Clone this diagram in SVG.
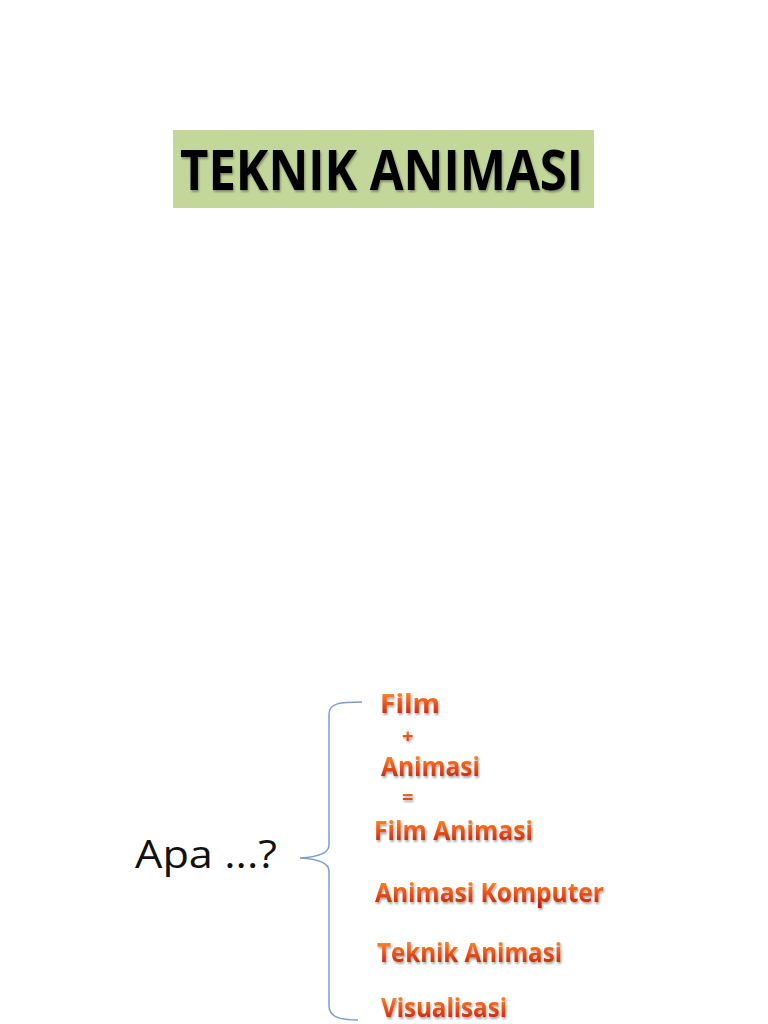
<svg xmlns="http://www.w3.org/2000/svg" width="768" height="1024" viewBox="0 0 768 1024">
<defs>
<linearGradient id="og" x1="0" y1="0" x2="0" y2="1">
<stop offset="0" stop-color="#ffb040"/>
<stop offset="0.5" stop-color="#ee5a18"/>
<stop offset="1" stop-color="#b80c06"/>
</linearGradient>
<filter id="sh" x="-5%" y="-20%" width="110%" height="140%">
<feGaussianBlur in="SourceAlpha" stdDeviation="0.8"/>
<feOffset dx="1" dy="1.5" result="b"/>
<feComponentTransfer><feFuncA type="linear" slope="0.35"/></feComponentTransfer>
<feMerge><feMergeNode/><feMergeNode in="SourceGraphic"/></feMerge>
</filter>
<style>
.o{font-family:"Open Sans","Liberation Sans",sans-serif;font-weight:bold;fill:url(#og);filter:url(#sh)}
</style>
</defs>
<rect width="768" height="1024" fill="#ffffff"/>
<g id="title">
<rect x="173" y="130" width="421" height="78" fill="#c4d79b"/>
<text x="180" y="190" font-family="Open Sans, Liberation Sans, sans-serif" font-weight="bold" font-size="55" fill="#000" textLength="403" lengthAdjust="spacingAndGlyphs" filter="url(#sh)">TEKNIK ANIMASI</text>
</g>
<g id="question">
<text x="135" y="868" font-family="Open Sans, Liberation Sans, sans-serif" font-size="38" fill="#111" textLength="142" lengthAdjust="spacingAndGlyphs">Apa ...?</text>
</g>
<g id="connectors">
<path d="M362,702 C340,702 329,703 329,714 L329,845 C329,853 318,857 300,858 C318,859 329,863 329,871 L329,1006 C329,1017 340,1020 358,1020" fill="none" stroke="#7d9ccf" stroke-width="1.5"/>
</g>
<g id="items">
<text class="o" x="380" y="713" font-size="27" textLength="60" lengthAdjust="spacingAndGlyphs">Film</text>
<text class="o" x="402" y="743" font-size="20">+</text>
<text class="o" x="381" y="776" font-size="27" textLength="99" lengthAdjust="spacingAndGlyphs">Animasi</text>
<text class="o" x="402" y="804" font-size="20">=</text>
<text class="o" x="374" y="840" font-size="27" textLength="159" lengthAdjust="spacingAndGlyphs">Film Animasi</text>
<text class="o" x="375" y="902" font-size="27" textLength="229" lengthAdjust="spacingAndGlyphs">Animasi Komputer</text>
<text class="o" x="377" y="962" font-size="27" textLength="185" lengthAdjust="spacingAndGlyphs">Teknik Animasi</text>
<text class="o" x="381" y="1017" font-size="27" textLength="126" lengthAdjust="spacingAndGlyphs">Visualisasi</text>
</g>
</svg>
